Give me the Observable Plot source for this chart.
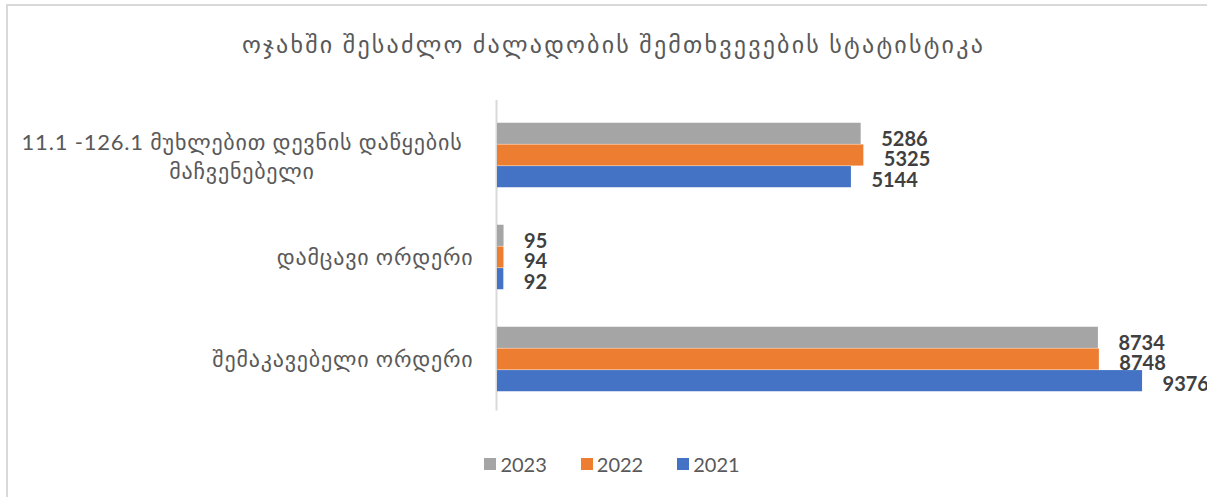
<!DOCTYPE html>
<html><head><meta charset="utf-8">
<script src="https://cdn.jsdelivr.net/npm/d3@7"></script>
<script src="https://cdn.jsdelivr.net/npm/@observablehq/plot@0.6"></script>
<style>
body{margin:0;background:#fff;font-family:Lato,"DejaVu Sans",sans-serif;}
#wrap{position:relative;width:1207px;height:497px;overflow:hidden;background:#fff;}
#border{position:absolute;left:6px;top:4px;width:1230px;height:530px;border-left:2px solid #d9d9d9;border-top:2px solid #d9d9d9;pointer-events:none;}
#title{height:73px;padding-top:7px;padding-left:20px;display:flex;align-items:center;justify-content:center;font-size:24px;letter-spacing:2.2px;color:#595959;}
#chart{height:370px;}
#legend{height:44px;margin-top:-8px;padding-left:17px;display:flex;justify-content:center;align-items:center;gap:34px;font-size:20px;color:#595959;}
.item{display:flex;align-items:center;gap:4px;}
.sw{width:12px;height:12px;display:inline-block;}
</style></head>
<body>
<div id="wrap">
<div id="border"></div>
<div id="title"></div>
<div id="chart"></div>
<div id="legend"></div>
</div>
<script>
const title = "ოჯახში შესაძლო ძალადობის შემთხვევების სტატისტიკა";
const categories = ["11.1 -126.1 მუხლებით დევნის დაწყების მაჩვენებელი", "დამცავი ორდერი", "შემაკავებელი ორდერი"];
const categoryLabels = ["11.1 -126.1 მუხლებით დევნის დაწყების\nმაჩვენებელი", "დამცავი ორდერი", "შემაკავებელი ორდერი"];
const years = ["2023", "2022", "2021"];
const values2023 = [5286, 95, 8734];
const values2022 = [5325, 94, 8748];
const values2021 = [5144, 92, 9376];
const colors = ["#A5A5A5", "#ED7D31", "#4472C4"];

const seriesValues = [values2023, values2022, values2021];
const rows = years.map((yr, s) => categories.map((c, i) => ({category: c, year: yr, value: seriesValues[s][i]})));

document.getElementById("title").textContent = title;

// layout constants (styles, not data)
const band = 102.5, barH = 65 / 3, groupTop = (band - 65) / 2;
const labelDy = [6, 4.5, 3];
const ff = "Lato, 'DejaVu Sans', sans-serif";

const marks = [
  Plot.ruleX([0], {stroke: "#d9d9d9", strokeWidth: 2, insetTop: -3, dx: -1})
];
rows.forEach((data, s) => {
  const top = groupTop + s * barH;
  marks.push(Plot.barX(data, {
    x: "value", y: "category", fill: colors[s],
    insetTop: top, insetBottom: band - top - barH
  }));
  marks.push(Plot.text(data, {
    x: "value", y: "category", text: d => String(d.value),
    textAnchor: "start", dx: 20, dy: (top + barH / 2 - band / 2) + labelDy[s],
    fill: "#404040", fontWeight: "bold", fontSize: 20, fontFamily: ff
  }));
});
// category tick labels
marks.push(Plot.text([categories[0]], {
  y: d => d, frameAnchor: "left", text: () => categoryLabels[0],
  textAnchor: "middle", dx: -255.5, lineHeight: 1.3,
  fill: "#595959", fontSize: 22, fontFamily: ff
}));
marks.push(Plot.text(categories.slice(1), {
  y: d => d, frameAnchor: "left", text: d => categoryLabels[categories.indexOf(d)],
  textAnchor: "end", dx: -24,
  fill: "#595959", fontSize: 22, fontFamily: ff
}));

const chart = Plot.plot({
  width: 1207, height: 370,
  marginLeft: 497, marginRight: 22, marginTop: 23, marginBottom: 39.5,
  x: {domain: [0, 10000], axis: null},
  y: {domain: categories, padding: 0, axis: null},
  style: {background: "transparent", overflow: "visible"},
  marks
});
// widen Georgian labels slightly
d3.select(chart).selectAll("text").filter(function() {
  return /[\u10A0-\u10FF]/.test(this.textContent);
}).style("letter-spacing", "0.8px");
document.getElementById("chart").appendChild(chart);

const legend = document.getElementById("legend");
years.forEach((yr, s) => {
  const it = document.createElement("div"); it.className = "item";
  const sw = document.createElement("span"); sw.className = "sw"; sw.style.background = colors[s];
  const tx = document.createElement("span"); tx.textContent = yr;
  it.appendChild(sw); it.appendChild(tx); legend.appendChild(it);
});
</script>
</body></html>
